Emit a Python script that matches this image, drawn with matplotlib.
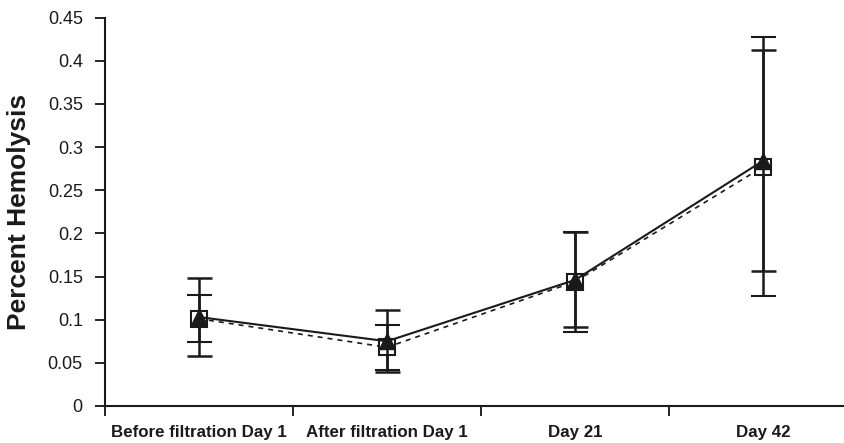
import matplotlib
matplotlib.use("Agg")
import matplotlib.pyplot as plt
import numpy as np

categories = ["Before filtration Day 1", "After filtration Day 1", "Day 21", "Day 42"]
tri_vals = [0.103, 0.075, 0.146, 0.284]
tri_err = [0.045, 0.036, 0.055, 0.128]
sq_vals = [0.101, 0.068, 0.144, 0.277]
sq_err = [0.027, 0.026, 0.058, 0.150]
yticks = [0, 0.05, 0.1, 0.15, 0.2, 0.25, 0.3, 0.35, 0.4, 0.45]
ytick_labels = ["0", "0.05", "0.1", "0.15", "0.2", "0.25", "0.3", "0.35", "0.4", "0.45"]

plt.rcParams['font.family'] = ['Liberation Sans', 'DejaVu Sans']

fig = plt.figure(figsize=(8.45, 4.43), dpi=100)
ax = fig.add_axes([105/845, 1-406/443, 752/845, (406-17.5)/443])

x = np.arange(len(categories))
ax.errorbar(x, sq_vals, yerr=sq_err, color='#1a1a1a', ls=(0, (3, 3)), lw=1.2,
            marker='s', ms=11, mfc='white', mec='#1a1a1a', mew=1.5,
            capsize=9, capthick=1.8, elinewidth=1.8, zorder=3, clip_on=False)
ax.errorbar(x, tri_vals, yerr=tri_err, color='#1a1a1a', ls='-', lw=1.5,
            marker='^', ms=11, mfc='#1a1a1a', mec='#1a1a1a',
            capsize=9, capthick=1.8, elinewidth=1.8, zorder=4, clip_on=False)

ax.set_xlim(-0.5, 3.5)
ax.set_ylim(0, 0.45)
ax.set_yticks(yticks)
ax.set_yticklabels(ytick_labels, fontsize=13, color='#1a1a1a')
ax.set_xticks([-0.5, 0.5, 1.5, 2.5])
ax.set_xticklabels([])
ax.set_xticks(x, minor=True)
ax.set_xticklabels(categories, minor=True, fontsize=12.2, fontweight='bold', color='#1a1a1a')
ax.tick_params(axis='x', which='minor', length=0, pad=14)
ax.tick_params(axis='x', which='major', length=7, direction='out', width=1.2)
ax.tick_params(axis='y', length=7, direction='out', width=1.2, pad=9)

for s in ['top', 'right']:
    ax.spines[s].set_visible(False)
for s in ['left', 'bottom']:
    ax.spines[s].set_linewidth(1.5)
    ax.spines[s].set_color('#1a1a1a')

fig.text(19/845, 1-212/443, "Percent Hemolysis", rotation=90, fontsize=19,
         fontweight='bold', ha='center', va='center', color='#1a1a1a')

fig.savefig("out.png", dpi=100)
